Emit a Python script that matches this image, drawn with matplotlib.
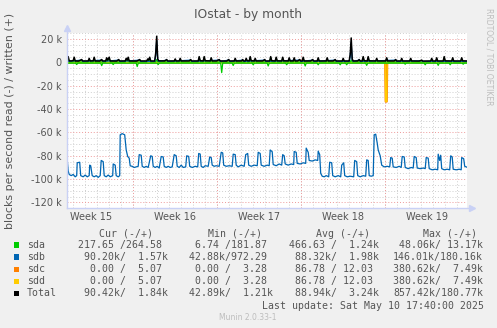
import matplotlib
matplotlib.use("Agg")
import numpy as np
import matplotlib.pyplot as plt
from matplotlib.patches import Rectangle

W, H = 497, 328

# time axis: hours since the start of the 800 h window, values in k blocks/s
sdb_read_h = [0, 3, 5, 9, 13, 17, 20, 21, 26, 28, 33, 37, 41, 45, 46, 48, 51, 55, 59, 63,
              67, 69, 73, 75, 79, 83, 87, 92, 93, 97, 99, 103, 106, 107, 111, 116, 119, 122,
              125, 127, 131, 135, 139, 143, 145, 149, 151, 155, 159, 163, 168, 171, 173, 177,
              181, 185, 189, 193, 195, 199, 203, 207, 211, 215, 219, 221, 225, 229, 233, 238,
              240, 244, 246, 251, 257, 262, 264, 267, 269, 273, 277, 283, 286, 289, 291, 295,
              299, 305, 309, 312, 314, 319, 325, 331, 333, 337, 339, 343, 349, 355, 358, 362,
              364, 369, 375, 381, 383, 387, 389, 395, 401, 405, 407, 411, 413, 419, 425, 430,
              432, 435, 437, 443, 449, 454, 455, 459, 461, 467, 473, 478, 479, 483, 485, 491,
              497, 502, 503, 506, 508, 511, 515, 519, 524, 526, 530, 532, 537, 543, 548, 550,
              554, 556, 561, 567, 574, 576, 580, 582, 587, 593, 598, 600, 603, 605, 609, 613,
              615, 618, 621, 623, 627, 630, 635, 641, 646, 648, 651, 653, 659, 665, 669, 671,
              675, 677, 683, 689, 693, 695, 699, 701, 707, 713, 717, 719, 723, 725, 731, 737,
              742, 743, 746, 748, 750, 755, 761, 766, 768, 771, 773, 779, 785, 789, 790, 794,
              796, 800]
sdb_read_k = [-78, -93, -96, -97, -96, -98, -97, -86, -85.5, -97, -98, -96.5, -98, -97, -88,
              -88.5, -97, -98, -97, -98.5, -97, -84, -85, -97, -98, -96.5, -98, -97, -87, -88,
              -97, -98, -97, -62, -61, -62, -75, -80.6, -82, -88.6, -89, -90, -89.5, -89, -79,
              -79.5, -89, -90, -89, -90, -80, -80.5, -89, -90, -89, -90.5, -80.6, -81, -89, -90,
              -89, -90, -89.5, -79, -80, -89, -90, -88, -90, -89.5, -80, -80.5, -89, -90, -89,
              -89.5, -78, -78.5, -89, -90, -88.5, -89, -81, -81.5, -88, -89, -88.5, -89, -77,
              -77.5, -88, -89, -88.5, -89, -78.6, -79, -88, -89.5, -88, -89, -79, -78, -88, -89,
              -88, -88.5, -77, -78, -88, -89, -88, -88.5, -75, -76.5, -87.5, -88.5, -87, -88,
              -79, -80, -87, -88, -87, -87.5, -76.3, -77, -86.5, -87, -86, -86.5, -73.4, -77,
              -84, -84.5, -83.5, -84, -76, -79, -95, -97.5, -98, -97, -98, -85.5, -86, -97, -98,
              -97, -98, -88, -86, -97, -98, -97.5, -98, -84, -85, -97, -98, -97, -97.5, -83.5,
              -84, -97, -97.5, -97, -62, -61.5, -69, -75, -80, -88, -89.5, -89, -89.5, -81.5,
              -82, -89.5, -90, -89, -90, -80.6, -81, -90, -91, -90, -90.5, -80.6, -81.5, -90.5,
              -91, -90.5, -91, -81.5, -82, -91, -92, -91.5, -92, -78.6, -84, -79.5, -91, -92,
              -91.5, -92, -80, -81, -91.5, -92, -91.5, -92, -81.5, -82.5, -89, -89.7]

total_write_h = [0, 3, 5, 9, 13, 15, 17, 24, 30, 32, 43, 45, 47, 53, 55, 57, 66, 70, 72, 78,
                 80, 82, 85, 87, 100, 104, 106, 117, 119, 121, 123, 125, 140, 146, 148, 160,
                 162, 164, 166, 168, 176, 178, 180, 182, 184, 196, 200, 202, 215, 217, 219,
                 225, 227, 229, 245, 248, 250, 263, 265, 267, 273, 275, 277, 287, 289, 291,
                 300, 305, 307, 320, 324, 326, 335, 337, 339, 350, 352, 354, 357, 359, 361,
                 365, 367, 369, 375, 377, 379, 392, 396, 398, 406, 408, 410, 417, 419, 421,
                 430, 432, 434, 443, 445, 447, 453, 455, 457, 462, 466, 468, 471, 473, 475,
                 488, 492, 494, 501, 503, 505, 519, 521, 523, 533, 537, 539, 551, 553, 555,
                 565, 567, 569, 571, 573, 582, 585, 587, 591, 593, 595, 601, 603, 605, 618,
                 620, 622, 638, 640, 642, 655, 658, 660, 668, 670, 672, 686, 688, 690, 705,
                 710, 712, 728, 730, 732, 738, 740, 742, 753, 755, 757, 770, 772, 774, 788,
                 790, 792, 800]
total_write_k = [1.5, 5.0, 1.4, 1.3, 1.6, 4.5, 1.3, 1.2, 2.5, 1.3, 1.3, 3.5, 1.3, 1.4, 4.5,
                 1.3, 1.2, 2.5, 1.3, 1.3, 4.0, 2.0, 4.5, 1.3, 1.2, 2.5, 1.3, 1.3, 3.5, 2.0,
                 4.5, 1.3, 1.2, 2.5, 1.3, 1.3, 3.0, 2.0, 4.5, 1.3, 1.3, 8.0, 22.5, 3.0, 1.4,
                 1.3, 2.5, 1.3, 1.3, 3.0, 1.3, 1.3, 3.5, 1.3, 1.3, 2.5, 1.3, 1.3, 5.0, 1.5,
                 1.3, 5.0, 1.5, 1.3, 4.0, 1.3, 1.3, 2.5, 1.3, 1.2, 2.5, 1.3, 1.3, 3.5, 1.3,
                 1.3, 2.5, 1.3, 1.3, 3.5, 1.5, 1.3, 5.0, 1.5, 1.3, 3.5, 1.3, 1.3, 2.5, 1.3,
                 1.3, 5.0, 1.5, 1.3, 4.5, 1.4, 1.3, 4.5, 1.4, 1.3, 4.0, 1.3, 1.3, 4.0, 1.3,
                 1.3, 2.5, 1.3, 1.3, 4.5, 1.3, 1.3, 2.5, 1.3, 1.3, 4.0, 1.3, 1.3, 4.0, 1.3,
                 1.3, 2.5, 1.3, 1.3, 3.5, 1.3, 1.3, 7.0, 21.0, 3.0, 1.3, 1.3, 2.5, 1.3, 1.3,
                 5.0, 1.5, 1.3, 5.0, 1.4, 1.3, 3.5, 1.3, 1.3, 4.0, 1.3, 1.3, 2.5, 1.3, 1.3,
                 3.5, 1.3, 1.3, 3.5, 1.3, 1.2, 2.0, 1.2, 1.3, 3.5, 1.3, 1.3, 4.0, 1.3, 1.3,
                 5.0, 1.4, 1.3, 4.0, 1.3, 1.3, 4.0, 1.4, 1.3]

sda_write_h = [0, 3, 5, 13, 15, 17, 43, 45, 47, 53, 55, 57, 78, 80, 82, 85, 87, 117, 119, 121,
               123, 125, 160, 162, 164, 166, 168, 178, 180, 182, 215, 217, 219, 225, 227, 229,
               263, 265, 267, 273, 275, 277, 287, 289, 291, 335, 337, 339, 357, 359, 361, 365,
               367, 369, 375, 377, 379, 406, 408, 410, 417, 419, 421, 430, 432, 434, 443, 445,
               447, 453, 455, 457, 471, 473, 475, 501, 503, 505, 519, 521, 523, 551, 553, 555,
               567, 569, 571, 591, 593, 595, 601, 603, 605, 618, 620, 622, 638, 640, 642, 668,
               670, 672, 686, 688, 690, 728, 730, 732, 738, 740, 742, 753, 755, 757, 770, 772,
               774, 788, 790, 792, 800]
sda_write_k = [0.5, 4.0, 0.4, 0.5, 3.5, 0.4, 0.4, 2.5, 0.4, 0.4, 3.5, 0.4, 0.4, 3.0, 1.0, 3.5,
               0.4, 0.4, 2.5, 1.0, 3.5, 0.4, 0.4, 2.0, 1.0, 3.5, 0.4, 0.5, 2.5, 0.5, 0.4, 2.0,
               0.4, 0.4, 2.5, 0.4, 0.4, 4.0, 0.5, 0.4, 4.0, 0.5, 0.4, 3.0, 0.4, 0.4, 2.5, 0.4,
               0.4, 2.5, 0.4, 0.4, 4.0, 0.4, 0.4, 2.5, 0.4, 0.4, 4.0, 0.5, 0.4, 3.5, 0.4, 0.4,
               3.5, 0.4, 0.4, 3.0, 0.4, 0.4, 3.0, 0.4, 0.4, 3.5, 0.4, 0.4, 3.0, 0.4, 0.4, 3.0,
               0.4, 0.4, 2.5, 0.4, 0.5, 2.0, 0.5, 0.4, 4.0, 0.4, 0.4, 4.0, 0.4, 0.4, 2.5, 0.4,
               0.4, 3.0, 0.4, 0.4, 2.5, 0.4, 0.4, 2.5, 0.4, 0.4, 2.5, 0.4, 0.4, 3.0, 0.4, 0.4,
               4.0, 0.4, 0.4, 3.0, 0.4, 0.4, 3.0, 0.4, 0.4]

sdb_write_h = [0, 30, 32, 70, 72, 104, 106, 146, 148, 176, 178, 180, 182, 184, 200, 202, 248,
               250, 305, 307, 324, 326, 352, 354, 396, 398, 466, 468, 492, 494, 537, 539, 565,
               567, 569, 571, 573, 585, 587, 658, 660, 710, 712, 800]
sdb_write_k = [0.9, 2.0, 0.9, 2.0, 0.9, 2.0, 0.9, 2.0, 0.9, 0.9, 6.0, 19.0, 2.0, 0.9, 2.0, 0.9,
               2.0, 0.9, 2.0, 0.9, 2.0, 0.9, 2.0, 0.9, 2.0, 0.9, 2.0, 0.9, 2.0, 0.9, 2.0, 0.9,
               0.9, 5.0, 17.0, 2.0, 0.9, 2.0, 0.9, 2.0, 0.9, 1.5, 0.9, 0.9]

sda_read_h = [0, 18, 20, 22, 68, 70, 72, 91, 93, 95, 139, 141, 143, 181, 183, 185, 308, 310,
              312, 331, 333, 335, 371, 373, 375, 401, 403, 405, 438, 440, 442, 475, 477, 479,
              501, 503, 505, 545, 547, 549, 558, 560, 562, 598, 600, 602, 675, 677, 679, 715,
              717, 719, 741, 743, 745, 765, 767, 769, 791, 793, 795, 800]
sda_read_k = [-0.6, -0.6, -1.8, -0.6, -0.6, -2.7, -0.6, -0.6, -1.8, -0.6, -0.6, -3.5, -0.6,
              -0.6, -1.8, -0.6, -0.6, -8.7, -0.6, -0.6, -2.6, -0.6, -0.6, -2.0, -0.6, -0.6,
              -3.0, -0.6, -0.6, -2.0, -0.6, -0.6, -3.0, -0.6, -0.6, -2.0, -0.6, -0.6, -2.0,
              -0.6, -0.6, -2.0, -0.6, -0.6, -2.5, -0.6, -0.6, -1.5, -0.6, -0.6, -2.0, -0.6,
              -0.6, -2.5, -0.6, -0.6, -2.0, -0.6, -0.6, -1.5, -0.6, -0.6]

# sdc and sdd report identical reads
sdc_read_h = [0, 637, 638, 640, 641, 800]
sdc_read_k = [0, 0, -33.5, -33.5, 0, 0]

week_labels = ["Week 15", "Week 16", "Week 17", "Week 18", "Week 19"]
first_week_start_h = 133.2

devices = ["sda", "sdb", "sdc", "sdd", "Total"]
colors = ["#00cc00", "#0066b3", "#ff8000", "#ffcc00", "#000000"]
cur_vals = ["217.65 /264.58 ", " 90.20k/  1.57k", "  0.00 /  5.07 ", "  0.00 /  5.07 ",
            " 90.42k/  1.84k"]
min_vals = ["  6.74 /181.87 ", " 42.88k/972.29 ", "  0.00 /  3.28 ", "  0.00 /  3.28 ",
            " 42.89k/  1.21k"]
avg_vals = ["466.63 /  1.24k", " 88.32k/  1.98k", " 86.78 / 12.03 ", " 86.78 / 12.03 ",
            " 88.94k/  3.24k"]
max_vals = [" 48.06k/ 13.17k", "146.01k/180.16k", "380.62k/  7.49k", "380.62k/  7.49k",
            "857.42k/180.77k"]
headers = ["Cur (-/+)", "Min (-/+)", "Avg (-/+)", "Max (-/+)"]
last_update = "Last update: Sat May 10 17:40:00 2025"

TXT = "#555555"
AXIS = "#c9d1f5"
MONO = "DejaVu Sans Mono"


def fx(x):
    return x / W


def fy(y):
    return 1 - y / H


fig = plt.figure(figsize=(W / 100, H / 100), dpi=100, facecolor="#f0f0f0")
ax = fig.add_axes([fx(66.7), fy(208.3), 400 / W, 175 / H])
ax.set_facecolor("white")
ax.set_xlim(0, 800)
ax.set_ylim(-125000, 25000)
for s in ax.spines.values():
    s.set_visible(False)

# grid: days / weeks and 5k / 20k
dot = (0, (1, 2))
for h in np.arange(first_week_start_h - 120, 800, 24):
    ax.axvline(h, color="#cfcfcf", lw=0.7, ls=dot, zorder=0)
for h in np.arange(first_week_start_h, 800, 168):
    ax.axvline(h, color="#ee9a9a", lw=0.7, ls=dot, zorder=0.5)
for v in np.arange(-120000, 25001, 5000):
    if v % 20000:
        ax.axhline(v, color="#cfcfcf", lw=0.7, ls=dot, zorder=0)
for v in np.arange(-120000, 25001, 20000):
    ax.axhline(v, color="#ee9a9a", lw=0.7, ls=dot, zorder=0.5)

k = 1000.0
ax.plot(sdc_read_h, np.array(sdc_read_k) * k, color=colors[2], lw=1.6, zorder=1)
ax.plot(sdc_read_h, np.array(sdc_read_k) * k, color=colors[3], lw=0.9, zorder=1.1)
ax.plot(sda_read_h, np.array(sda_read_k) * k, color=colors[0], lw=0.9, zorder=2)
ax.plot(sdb_read_h, np.array(sdb_read_k) * k, color=colors[1], lw=0.9, zorder=2)
ax.plot(sda_write_h, np.array(sda_write_k) * k, color=colors[0], lw=0.9, zorder=2)
ax.plot(sdb_write_h, np.array(sdb_write_k) * k, color=colors[1], lw=0.9, zorder=2.1)
ax.plot(total_write_h, np.array(total_write_k) * k, color="black", lw=1.1, zorder=3)

yt = np.arange(-120000, 20001, 20000)
ax.set_yticks(yt)
ax.set_yticklabels([("%d k" % (v / 1000)) if v else "0" for v in yt])
ax.set_xticks(first_week_start_h - 84 + 168 * np.arange(len(week_labels)))
ax.set_xticklabels(week_labels)
ax.tick_params(axis="both", length=0, labelsize=7, labelcolor=TXT)
ax.tick_params(axis="y", pad=3.4)
ax.tick_params(axis="x", pad=2.5)

# axis lines with arrow heads
ax.plot([0, 0], [0, 1.03], transform=ax.transAxes, color=AXIS, lw=1, clip_on=False, zorder=4)
ax.plot([0, 1.01], [0, 0], transform=ax.transAxes, color=AXIS, lw=1, clip_on=False, zorder=4)
ax.plot([0], [1.03], transform=ax.transAxes, marker="^", ms=4, color=AXIS, clip_on=False)
ax.plot([1.012], [0], transform=ax.transAxes, marker=">", ms=4, color=AXIS, clip_on=False)

fig.text(fx(248), fy(18.3), "IOstat - by month", ha="center", va="baseline",
         fontsize=8.8, color=TXT)
fig.text(fx(10), fy(121), "blocks per second read (-) / written (+)", rotation=90,
         ha="center", va="center", fontsize=7.9, color=TXT)
fig.text(fx(489), fy(56.5), "RRDTOOL / TOBI OETIKER", rotation=270, ha="center",
         va="center", fontsize=5.5, color="#bdbdbd")

# legend table
for hx, label in zip([99, 207.7, 316, 423.3], headers):
    fig.text(fx(hx), fy(237), label, family=MONO, fontsize=7.15, color=TXT, va="baseline")
row_y = [245, 257, 269.2, 281.4, 293.4]
for i, name in enumerate(devices):
    y = row_y[i]
    fig.patches.append(Rectangle((fx(14), fy(y + 2.8)), 5.4 / W, 5.4 / H,
                                 transform=fig.transFigure, facecolor=colors[i],
                                 edgecolor="none"))
    fig.text(fx(26.7), fy(y + 3), name, family=MONO, fontsize=7.15, color=TXT, va="baseline")
    for cx, col in zip([77.5, 183, 288.8, 393.2], [cur_vals, min_vals, avg_vals, max_vals]):
        fig.text(fx(cx), fy(y + 3), col[i], family=MONO, fontsize=7.15, color=TXT,
                 va="baseline")
fig.text(fx(261.7), fy(308.7), last_update, family=MONO, fontsize=7.15, color=TXT,
         va="baseline")
fig.text(fx(248), fy(317.5), "Munin 2.0.33-1", ha="center", va="center", fontsize=5.5,
         color="#bdbdbd")

fig.savefig("out.png", dpi=100, facecolor=fig.get_facecolor())
